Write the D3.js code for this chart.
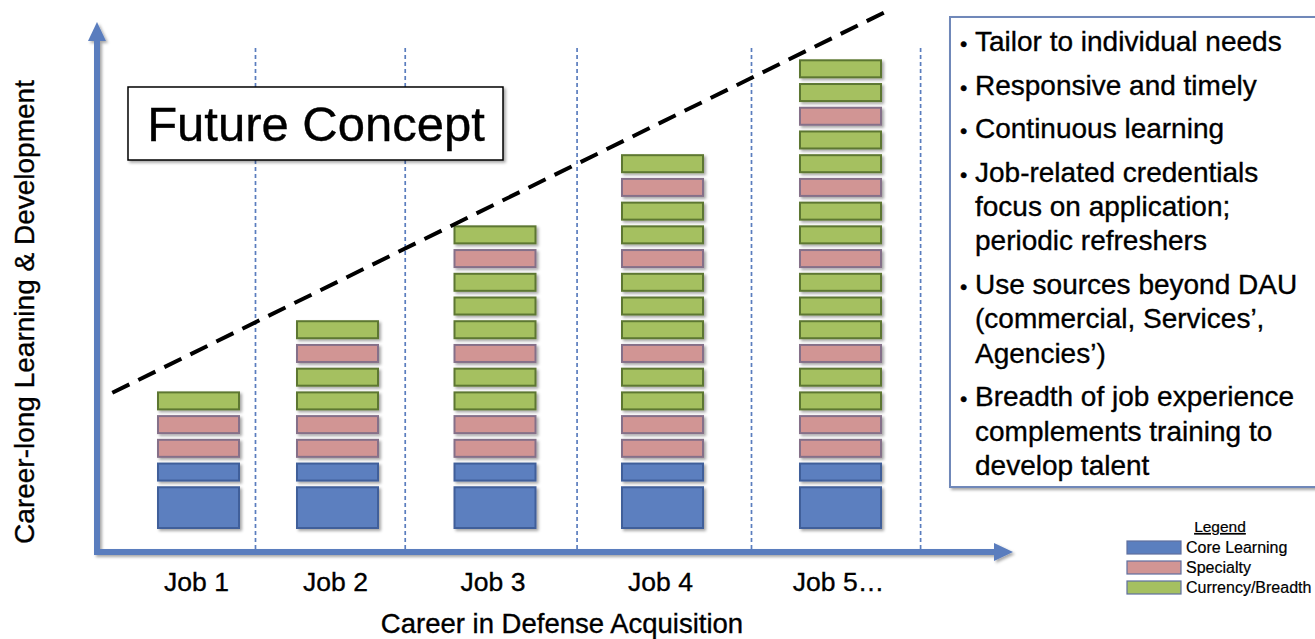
<!DOCTYPE html>
<html>
<head>
<meta charset="utf-8">
<script src="https://cdn.jsdelivr.net/npm/d3@7"></script>
<style>
  html, body { margin: 0; padding: 0; background: #ffffff; }
  svg { display: block; font-family: "Liberation Sans", Arial, Helvetica, sans-serif; }
  .txt { fill: #000; stroke: #000; stroke-width: 0.35px; }
</style>
</head>
<body>
<svg id="chart" width="1315" height="639"></svg>
<script>
// ---- data ----
const jobs = ["Job 1", "Job 2", "Job 3", "Job 4", "Job 5…"];

// Blocks in each job, listed from the bottom up.
// core = Core Learning, spec = Specialty, curr = Currency/Breadth
const job1Blocks = ["core", "core", "spec", "spec", "curr"];
const job2Blocks = ["core", "core", "spec", "spec", "curr", "curr", "spec", "curr"];
const job3Blocks = ["core", "core", "spec", "spec", "curr", "curr", "spec", "curr", "curr", "curr", "spec", "curr"];
const job4Blocks = ["core", "core", "spec", "spec", "curr", "curr", "spec", "curr", "curr", "curr", "spec", "curr", "curr", "spec", "curr"];
const job5Blocks = ["core", "core", "spec", "spec", "curr", "curr", "spec", "curr", "curr", "curr", "spec", "curr", "curr", "spec", "curr", "curr", "spec", "curr", "curr"];
const stacks = [job1Blocks, job2Blocks, job3Blocks, job4Blocks, job5Blocks];

// The foundation (first) block of every job counts double.
const foundationUnits = 2;

const legendKeys = ["core", "spec", "curr"];
const legendLabels = ["Core Learning", "Specialty", "Currency/Breadth"];

// Boundaries between jobs, in career position (job index units)
const jobBoundaries = [0.41, 1.43, 2.49, 3.5, 4.45];

// Rising expectation line: [career position, development level]
const trendPoints = [[-0.62, 5.7], [4.25, 21.75]];

const bulletItems = [
  ["Tailor to individual needs"],
  ["Responsive and timely"],
  ["Continuous learning"],
  ["Job-related credentials", "focus on application;", "periodic refreshers"],
  ["Use sources beyond DAU", "(commercial, Services’,", "Agencies’)"],
  ["Breadth of job experience", "complements training to", "develop talent"]
];

const titleText = "Future Concept";
const xTitle = "Career in Defense Acquisition";
const yTitle = "Career-long Learning & Development";

// ---- styles ----
const fills = { core: "#5b7fbf", spec: "#d19594", curr: "#a5c060" };
const strokes = { core: "#405f9a", spec: "#857089", curr: "#5d7731" };
const axisBlue = "#5a7dbe";

const svg = d3.select("#chart");

const defs = svg.append("defs");
const shadow = defs.append("filter").attr("id", "shadow")
  .attr("x", "-10%").attr("y", "-10%").attr("width", "130%").attr("height", "140%");
shadow.append("feDropShadow").attr("dx", 2).attr("dy", 2)
  .attr("stdDeviation", 1.6).attr("flood-color", "#000").attr("flood-opacity", 0.35);

// ---- scales ----
// Career position -> x (columns widen gradually along the career)
const x = d3.scaleLinear()
  .domain(d3.range(jobs.length))
  .range([198.5, 337.5, 495, 662.5, 840.5]);

// Development level -> y
const y = d3.scaleLinear().domain([0, 20]).range([528, 528 - 20 * 23.72]);

const blockWidth = 81;
const blockGap = 6.7;

// ---- job separators ----
svg.append("g").selectAll("line").data(jobBoundaries).join("line")
  .attr("x1", d => x(d)).attr("x2", d => x(d))
  .attr("y1", 48).attr("y2", 550)
  .attr("stroke", axisBlue).attr("stroke-width", 1.7)
  .attr("stroke-dasharray", "4,3");

// ---- stacked blocks ----
const blocks = [];
stacks.forEach((stack, j) => {
  let level = 0;
  stack.forEach((cat, i) => {
    const units = i === 0 ? foundationUnits : 1;
    blocks.push({ job: j, cat, bottom: level, top: level + units });
    level += units;
  });
});

svg.append("g").attr("filter", "url(#shadow)")
  .selectAll("rect").data(blocks).join("rect")
  .attr("x", d => x(d.job) - blockWidth / 2)
  .attr("width", blockWidth)
  .attr("y", d => y(d.top) + blockGap)
  .attr("height", d => y(d.bottom) - y(d.top) - blockGap)
  .attr("fill", d => fills[d.cat])
  .attr("stroke", d => strokes[d.cat])
  .attr("stroke-width", 2);

// ---- axes (arrows) ----
const axes = svg.append("g").attr("filter", "url(#shadow)");
axes.append("line").attr("x1", 97).attr("y1", 555).attr("x2", 97).attr("y2", 38)
  .attr("stroke", axisBlue).attr("stroke-width", 6);
axes.append("path").attr("d", "M97,22 L88,41 L106,41 Z").attr("fill", axisBlue);
axes.append("line").attr("x1", 94).attr("y1", 552).attr("x2", 996).attr("y2", 552)
  .attr("stroke", axisBlue).attr("stroke-width", 6);
axes.append("path").attr("d", "M1013,552 L994,543 L994,561 Z").attr("fill", axisBlue);

// ---- trend line ----
svg.append("path")
  .datum(trendPoints)
  .attr("d", d3.line().x(d => x(d[0])).y(d => y(d[1])))
  .attr("fill", "none").attr("stroke", "#000")
  .attr("stroke-width", 4).attr("stroke-dasharray", "19,10");

// ---- title box ----
svg.append("rect").attr("x", 128).attr("y", 87).attr("width", 375).attr("height", 73)
  .attr("fill", "#fff").attr("stroke", "#000").attr("stroke-width", 1.5)
  .attr("filter", "url(#shadow)");
svg.append("text").attr("class", "txt").attr("x", 316).attr("y", 141).attr("text-anchor", "middle")
  .attr("font-size", 49).text(titleText);

// ---- job labels ----
svg.append("g").selectAll("text").data(jobs).join("text")
  .attr("class", "txt")
  .attr("x", (d, i) => x(i) - 2).attr("y", 591)
  .attr("text-anchor", "middle").attr("font-size", 26.5)
  .text(d => d);

// ---- axis titles ----
svg.append("text").attr("class", "txt").attr("x", 562).attr("y", 633).attr("text-anchor", "middle")
  .attr("font-size", 27.5).text(xTitle);
svg.append("text").attr("class", "txt").attr("transform", "translate(34,312) rotate(-90)")
  .attr("text-anchor", "middle").attr("font-size", 28).text(yTitle);

// ---- bullet box ----
svg.append("rect").attr("x", 950).attr("y", 17).attr("width", 380).attr("height", 470)
  .attr("fill", "#fff").attr("stroke", "#6f88b9").attr("stroke-width", 2)
  .attr("filter", "url(#shadow)");

const lineStep = 34.3, itemExtra = 9.3;
let baseline = 51;
const bulletG = svg.append("g");
bulletItems.forEach((lines, k) => {
  if (k > 0) baseline += itemExtra;
  lines.forEach((ln, li) => {
    if (li === 0) {
      bulletG.append("text").attr("class", "txt").attr("x", 960).attr("y", baseline)
        .attr("font-size", 21).text("•");
    }
    bulletG.append("text").attr("class", "txt").attr("x", 975).attr("y", baseline)
      .attr("font-size", 28).text(ln);
    baseline += lineStep;
  });
});

// ---- legend ----
const legend = svg.append("g");
legend.append("text").attr("class", "txt").attr("x", 1220).attr("y", 532).attr("text-anchor", "middle")
  .attr("font-size", 15.5).attr("text-decoration", "underline").style("stroke-width", "0.2px")
  .text("Legend");
const rows = legend.selectAll("g.row").data(legendKeys).join("g")
  .attr("class", "row")
  .attr("transform", (d, i) => `translate(0,${541 + i * 20})`);
rows.append("rect").attr("x", 1127).attr("y", 0).attr("width", 54).attr("height", 13)
  .attr("fill", d => fills[d]).attr("stroke", "#5f6f9f").attr("stroke-width", 1.2);
rows.append("text").attr("class", "txt").attr("x", 1186).attr("y", 12).attr("font-size", 16)
  .style("stroke-width", "0.2px")
  .text((d, i) => legendLabels[i]);
</script>
</body>
</html>
